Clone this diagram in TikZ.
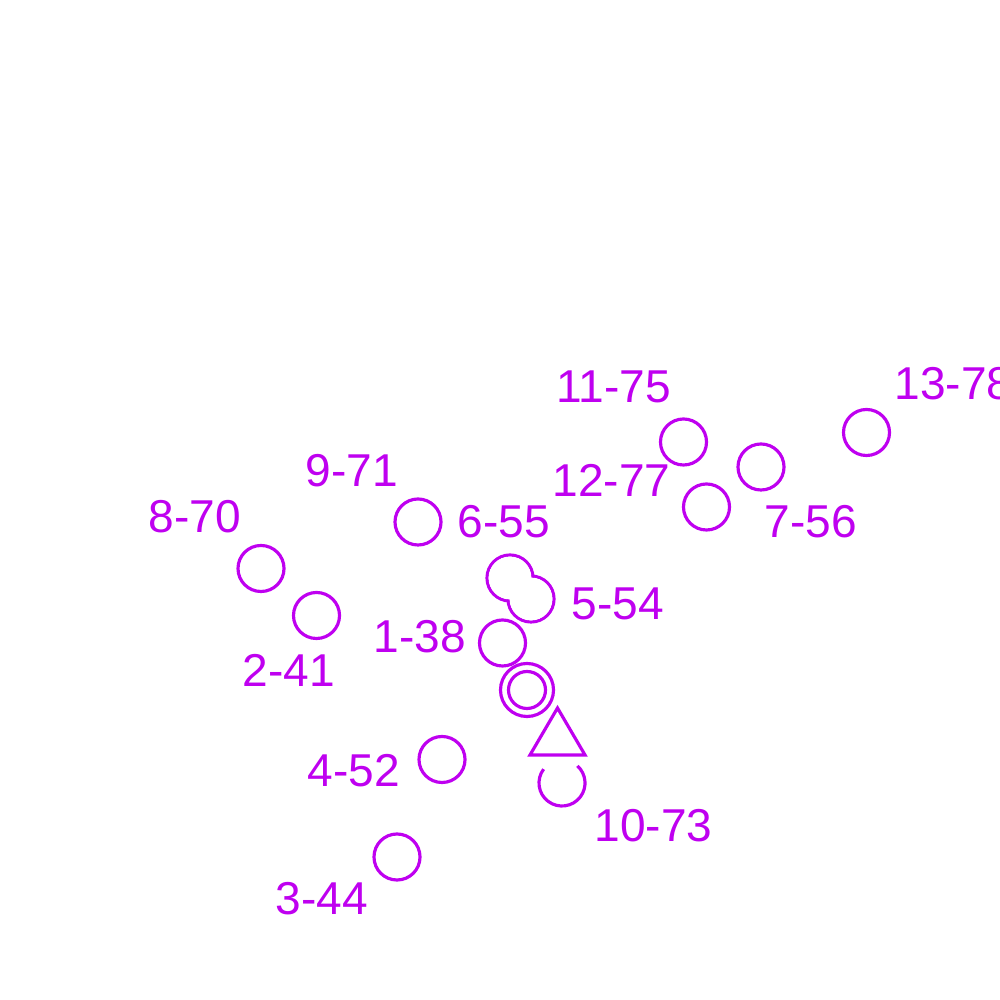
\documentclass[tikz,border=0pt]{standalone}
\usepackage{fontspec}
\setmainfont{Liberation Sans}
\definecolor{mag}{RGB}{191,0,240}
\begin{document}
\begin{tikzpicture}[x=0.01cm,y=0.01cm,
  pt/.style={draw=mag,line width=0.9pt,fill=white},
  lbl/.style={text=mag,anchor=base west,inner sep=0pt,font=\fontsize{13.1pt}{15pt}\selectfont}]
\useasboundingbox[fill=white] (0,0) rectangle (1000,1000);
% plain circles
\foreach \n/\x/\y in {c1/502.5/357, c2/316.5/384.5, c3/397/143, c4/442/240.5,
  c7/761/533, c8/261/431.5, c9/418/478, c11/683.5/558, c12/706.5/493, c13/866.5/567.5}
  \draw[pt] (\x,\y) circle[radius=0.23cm];
% overlapping pair 6-55 / 5-54 (union outline)
\coordinate (c6) at (510,422);
\coordinate (c5) at (531,401);
\draw[draw=mag,line width=0.9pt] (c6) circle[radius=0.23cm] (c5) circle[radius=0.23cm];
\fill[white] (c6) circle[radius=0.214cm] (c5) circle[radius=0.214cm];
% double circle
\coordinate (dc) at (527,310);
\draw[pt] (dc) circle[radius=0.265cm];
\draw[pt] (dc) circle[radius=0.185cm];
% triangle
\coordinate (ta) at (557.5,292);
\coordinate (tb) at (530,245);
\coordinate (tc) at (585,245);
\draw[draw=mag,line width=0.9pt,line join=miter] (ta) -- (tb) -- (tc) -- cycle;
% open circle 10-73
\coordinate (c10) at (562,217);
\draw[draw=mag,line width=0.9pt] ([shift={(143:0.23cm)}]c10) arc[start angle=143,end angle=408,radius=0.23cm];
% labels
\node[lbl] (l1) at (373,347) {1-38};
\node[lbl] (l2) at (242,313) {2-41};
\node[lbl] (l3) at (275,85) {3-44};
\node[lbl] (l4) at (307,213) {4-52};
\node[lbl] (l5) at (571,380) {5-54};
\node[lbl] (l6) at (457,462) {6-55};
\node[lbl] (l7) at (764,462) {7-56};
\node[lbl] (l8) at (148,467) {8-70};
\node[lbl] (l9) at (305,513) {9-71};
\node[lbl] (l10) at (594,158) {10-73};
\node[lbl] (l11) at (556,597) {11-75};
\node[lbl] (l12) at (552,503) {12-77};
\node[lbl] (l13) at (894,600) {13-78};
\end{tikzpicture}
\end{document}
